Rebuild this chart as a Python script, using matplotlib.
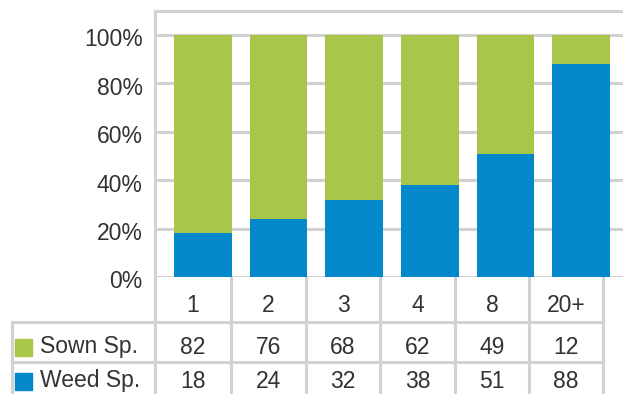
import numpy as np
import matplotlib
matplotlib.use("Agg")
import matplotlib.pyplot as plt
import matplotlib.transforms as mtransforms

categories = ["1", "2", "3", "4", "8", "20+"]
sown = [82, 76, 68, 62, 49, 12]
weed = [18, 24, 32, 38, 51, 88]
series_names = ["Sown Sp.", "Weed Sp."]
yticks = [0, 20, 40, 60, 80, 100]

green = "#a9c64a"
blue = "#0288cb"
grid = "#d2d2d2"
txt = "#333333"

plt.rcParams["font.family"] = ["Liberation Sans", "DejaVu Sans"]

W, H = 623, 394
fig = plt.figure(figsize=(W / 100, H / 100), dpi=100)

# pixel helpers
def fx(px):
    return px / W

def fy(py):
    return 1 - py / H

# chart area: left 155px, top 11px, zero line at 277px
ax = fig.add_axes([fx(155), fy(277), fx(623) - fx(155), fy(11) - fy(277)])
x = np.arange(len(categories))
sown_frac = np.array(sown) / 100
weed_frac = np.array(weed) / 100
ax.bar(x, weed_frac, width=0.76, color=blue, zorder=3)
ax.bar(x, sown_frac, width=0.76, bottom=weed_frac, color=green, zorder=3)
ax.set_xlim(-0.635, 5.556)
ax.set_ylim(0, 266 / 242)
ax.set_yticks(np.array(yticks) / 100)
ax.set_yticklabels([f"{t}%" for t in yticks])
ax.tick_params(axis="y", length=0, pad=9, labelsize=16.5, labelcolor=txt)
# labels sit a little below their grid lines in the original
shift = mtransforms.ScaledTranslation(0, -2.5 / 100, fig.dpi_scale_trans)
for lab in ax.get_yticklabels():
    lab.set_transform(lab.get_transform() + shift)
ax.set_xticks([])
ax.grid(axis="y", color=grid, linewidth=2.2, zorder=0)
for s in ["right", "bottom"]:
    ax.spines[s].set_visible(False)
for s in ["left", "top"]:
    ax.spines[s].set_color(grid)
    ax.spines[s].set_linewidth(2.2)

# table below the chart, drawn in pixel coordinates
tab = fig.add_axes([0, 0, 1, 1], zorder=-1)
tab.set_xlim(0, W)
tab.set_ylim(H, 0)
tab.axis("off")
col_edges = [155, 231, 306, 380, 455, 529, 603]
row_edges = [277, 322, 362, 400]
lw = 2.2
for y in row_edges[1:3]:
    tab.plot([12, col_edges[-1]], [y, y], color=grid, lw=lw)
tab.plot([12, 12], [row_edges[1], H], color=grid, lw=lw)
tab.plot([155, 155], [row_edges[0], H], color=grid, lw=lw)
for cx in col_edges[1:]:
    tab.plot([cx, cx], [row_edges[0], H], color=grid, lw=lw)

centers = [(col_edges[i] + col_edges[i + 1]) / 2 for i in range(len(categories))]
row_mid = [305, 347, 381]
for c, lab in zip(centers, categories):
    tab.text(c, row_mid[0], lab, ha="center", va="center", fontsize=16.5, color=txt)
for r, (name, vals, col) in enumerate(zip(series_names, [sown, weed], [green, blue])):
    y = row_mid[r + 1]
    tab.add_patch(plt.Rectangle((15, y - 8.5), 17, 17, color=col))
    tab.text(40, y, name, ha="left", va="center", fontsize=16.5, color=txt)
    for c, v in zip(centers, vals):
        tab.text(c, y, str(v), ha="center", va="center", fontsize=16.5, color=txt)

fig.savefig("out.png", dpi=100)
